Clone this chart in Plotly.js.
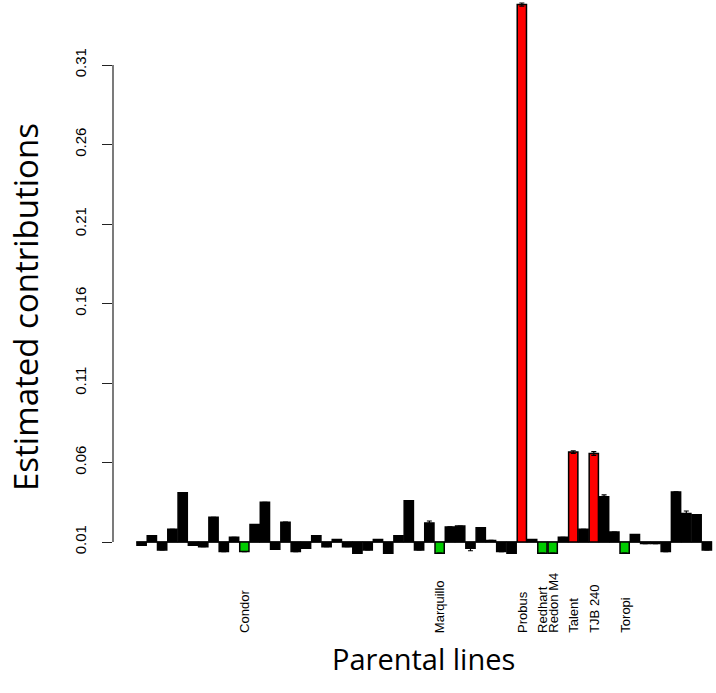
<!DOCTYPE html>
<html>
<head>
<meta charset="utf-8">
<script src="https://cdn.plot.ly/plotly-3.0.1.min.js"></script>
<style>html,body{margin:0;padding:0;background:#fff;}#chart{width:716px;height:693px;}</style>
</head>
<body>
<div id="chart"></div>
<script>
// Parental line labels (only the named lines are printed under the bars)
const lineLabels = ["","","","","","","","","","","Condor","","","","","","","","","",
  "","","","","","","","","","Marquillo","","","","","","","","Probus","","Redhart",
  "Redon M4","","Talent","","TJB 240","","","Toropi","","","","","","","",""];
// Estimated contributions (bar tops, in axis units; baseline at 0.01)
const contributions = [0.008,0.014,0.005,0.018,0.041,0.008,0.007,0.0255,0.004,0.013,
  0.004,0.021,0.035,0.0055,0.0225,0.004,0.006,0.014,0.007,0.0115,
  0.007,0.003,0.005,0.0115,0.003,0.014,0.036,0.005,0.022,0.003,
  0.0195,0.020,0.006,0.019,0.011,0.004,0.003,0.348,0.0115,0.003,
  0.003,0.013,0.0666,0.018,0.0657,0.0385,0.0163,0.003,0.0147,0.009,
  0.009,0.004,0.0415,0.028,0.0272,0.005];
// Standard errors (null = not drawn)
const stdErrors = [null,null,null,null,null,null,null,null,null,null,
  null,null,null,null,null,null,null,null,null,null,
  null,null,null,null,null,null,null,null,0.0012,null,
  null,null,0.0015,null,null,null,null,0.001,null,null,
  null,null,0.0008,null,0.0012,0.0012,null,null,null,null,
  null,null,null,0.0015,null,null];
// Bar class: k = black, r = red, g = green
const barClass = ["k","k","k","k","k","k","k","k","k","k","g","k","k","k","k","k","k","k","k","k",
  "k","k","k","k","k","k","k","k","k","g","k","k","k","k","k","k","k","r","k","g",
  "g","k","r","k","r","k","k","g","k","k","k","k","k","k","k","k"];
const yTicks = [0.01,0.06,0.11,0.16,0.21,0.26,0.31];
const yTickText = ["0.01","0.06","0.11","0.16","0.21","0.26","0.31"];
const xTitle = "Parental lines";
const yTitle = "Estimated contributions";

const baseline = 0.01;
const colorMap = {k:"#000000", r:"#ff0000", g:"#00cc00"};
const xs = contributions.map((v,i)=>i+1);

const trace = {
  type:"bar",
  x: xs,
  y: contributions.map(v=>v-baseline),
  base: baseline,
  marker:{color: barClass.map(c=>colorMap[c]), line:{color:"#000", width:1.5}},
  error_y:{type:"data", array: stdErrors, visible:true, color:"#000", thickness:1.2, width:2.5},
  hoverinfo:"skip"
};

const annotations = [];
lineLabels.forEach((lab,i)=>{
  if(!lab) return;
  annotations.push({x:i+1, xref:"x", y:-0.134, yref:"paper", text:lab, textangle:-90,
    showarrow:false, xanchor:"center", yanchor:"bottom",
    font:{family:"Liberation Sans, Arial, sans-serif", size:13, color:"#000"}});
});
// axis titles placed as in the reference
annotations.push({xref:"paper", yref:"paper", x:(423-113)/603, y:(560-658)/560, text:xTitle,
  showarrow:false, xanchor:"center", yanchor:"middle",
  font:{family:"Open Sans, sans-serif", size:29, color:"#000"}});
annotations.push({xref:"paper", yref:"paper", x:(25-113)/603, y:(560-307)/560, text:yTitle,
  textangle:-90, showarrow:false, xanchor:"center", yanchor:"middle",
  font:{family:"Open Sans, sans-serif", size:33, color:"#000"}});

const layout = {
  width:716, height:693,
  margin:{l:113, r:0, t:0, b:133, pad:0},
  paper_bgcolor:"#fff", plot_bgcolor:"#fff",
  showlegend:false,
  bargap:0.1,
  xaxis:{range:[-1.78,56.89], showgrid:false, zeroline:false, showline:false,
    showticklabels:false, ticks:""},
  yaxis:{range:[-0.00132,0.35088], showgrid:false, zeroline:false, showline:false,
    tickmode:"array", tickvals:yTicks, ticktext:yTickText, ticks:"outside", ticklen:10,
    tickcolor:"#222", tickwidth:1, tickangle:-90, ticklabelstandoff:10,
    tickfont:{family:"Liberation Sans, Arial, sans-serif", size:15, color:"#000"}},
  shapes:[
    {type:"line", xref:"paper", yref:"y", x0:0, x1:0, y0:yTicks[0], y1:yTicks[yTicks.length-1], line:{color:"#222", width:1.2}},
    {type:"line", xref:"x", yref:"y", x0:0.5, x1:56.5, y0:baseline, y1:baseline, line:{color:"#000", width:1.2}, layer:"below"}
  ],
  annotations: annotations
};

Plotly.newPlot("chart",[trace],layout,{displayModeBar:false, staticPlot:true});
</script>
</body>
</html>
